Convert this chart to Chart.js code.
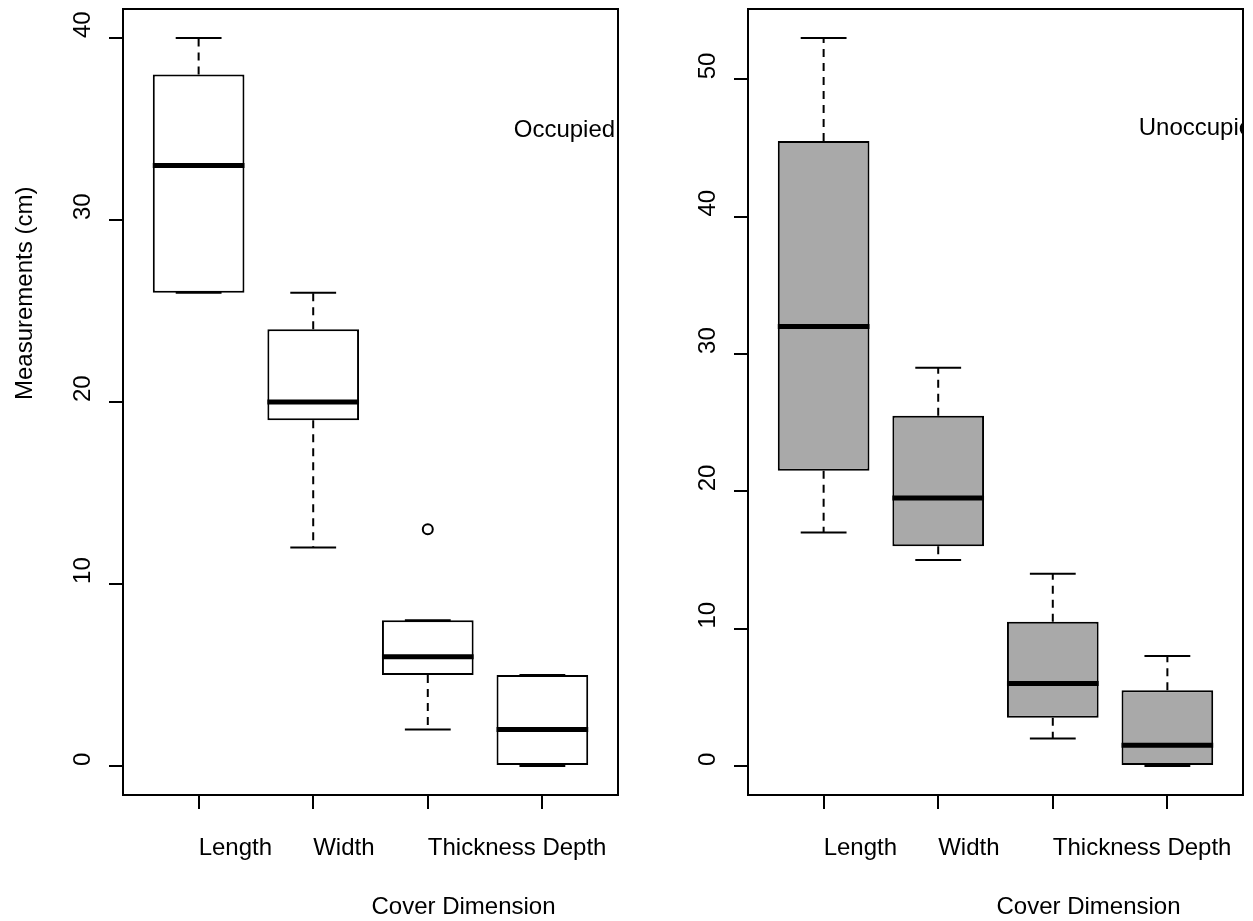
<!DOCTYPE html>
<html>
<head>
<meta charset="utf-8">
<script src="https://cdn.jsdelivr.net/npm/chart.js@4.4.0/dist/chart.umd.min.js"></script>
<style>
  body { margin: 0; background: #fff; }
  canvas { position: absolute; top: 0; }
</style>
</head>
<body>
<canvas id="occupied" width="626" height="921" style="left:0px"></canvas>
<canvas id="unoccupied" width="627" height="921" style="left:626px"></canvas>
<script>
var dimensions = ["Length", "Width", "Thickness", "Depth"];

//----------------------------Occupied nests
var occLow = [26, 12, 2, 0];
var occQ1 = [26, 19, 5, 0];
var occMedian = [33, 20, 6, 2];
var occQ3 = [38, 24, 8, 5];
var occHigh = [40, 26, 8, 5];
var occOutlierCat = [3];
var occOutlierVal = [13];
var occTicks = [0, 10, 20, 30, 40];

//----------------------------Unoccupied nests
var unLow = [17, 15, 2, 0];
var unQ1 = [21.5, 16, 3.5, 0];
var unMedian = [32, 19.5, 6, 1.5];
var unQ3 = [45.5, 25.5, 10.5, 5.5];
var unHigh = [53, 29, 14, 8];
var unOutlierCat = [];
var unOutlierVal = [];
var unTicks = [0, 10, 20, 30, 40, 50];

var FONT = '24px "Liberation Sans", Arial, Helvetica, sans-serif';

var panels = {
  occupied: {
    low: occLow, q1: occQ1, med: occMedian, q3: occQ3, high: occHigh,
    outCat: occOutlierCat, outVal: occOutlierVal, ticks: occTicks,
    fill: "#ffffff", note: "Occupied", noteX: 3.75, noteY: 35,
    yTitle: "Measurements (cm)", axisWidth: 123, padRight: 8
  },
  unoccupied: {
    low: unLow, q1: unQ1, med: unMedian, q3: unQ3, high: unHigh,
    outCat: unOutlierCat, outVal: unOutlierVal, ticks: unTicks,
    fill: "#a9a9a9", note: "Unoccupied", noteX: 3.75, noteY: 46.5,
    yTitle: null, axisWidth: 122, padRight: 10
  }
};

var boxExtras = {
  id: "boxExtras",
  beforeDatasetsDraw: function (chart) {
    var p = panels[chart.canvas.id];
    var ctx = chart.ctx, xs = chart.scales.x, ys = chart.scales.y;
    ctx.save();
    ctx.strokeStyle = "#000";
    ctx.lineWidth = 2;
    for (var i = 0; i < dimensions.length; i++) {
      var cx = xs.getPixelForValue(i + 1);
      // dashed whiskers
      ctx.setLineDash([8, 6]);
      ctx.beginPath();
      ctx.moveTo(cx, ys.getPixelForValue(p.q3[i]));
      ctx.lineTo(cx, ys.getPixelForValue(p.high[i]));
      ctx.moveTo(cx, ys.getPixelForValue(p.q1[i]));
      ctx.lineTo(cx, ys.getPixelForValue(p.low[i]));
      ctx.stroke();
      // staples
      ctx.setLineDash([]);
      var sl = xs.getPixelForValue(i + 1 - 0.2), sr = xs.getPixelForValue(i + 1 + 0.2);
      ctx.beginPath();
      ctx.moveTo(sl, ys.getPixelForValue(p.high[i]));
      ctx.lineTo(sr, ys.getPixelForValue(p.high[i]));
      ctx.moveTo(sl, ys.getPixelForValue(p.low[i]));
      ctx.lineTo(sr, ys.getPixelForValue(p.low[i]));
      ctx.stroke();
    }
    ctx.restore();
  },
  afterDatasetsDraw: function (chart) {
    var p = panels[chart.canvas.id];
    var ctx = chart.ctx, xs = chart.scales.x, ys = chart.scales.y;
    ctx.save();
    ctx.strokeStyle = "#000";
    ctx.lineWidth = 5;
    for (var i = 0; i < dimensions.length; i++) {
      var y = ys.getPixelForValue(p.med[i]);
      ctx.beginPath();
      ctx.moveTo(xs.getPixelForValue(i + 1 - 0.4), y);
      ctx.lineTo(xs.getPixelForValue(i + 1 + 0.4), y);
      ctx.stroke();
    }
    ctx.restore();
  },
  afterDraw: function (chart) {
    var p = panels[chart.canvas.id];
    var ctx = chart.ctx, xs = chart.scales.x, ys = chart.scales.y, a = chart.chartArea;
    ctx.save();
    // frame
    ctx.strokeStyle = "#000";
    ctx.lineWidth = 2;
    ctx.strokeRect(a.left, a.top, a.right - a.left, a.bottom - a.top);

    ctx.fillStyle = "#000";
    ctx.font = FONT;
    ctx.textAlign = "left";
    ctx.textBaseline = "alphabetic";

    // category labels, left-aligned at the ticks
    for (var i = 0; i < dimensions.length; i++) {
      ctx.fillText(dimensions[i], xs.getPixelForValue(i + 1), a.bottom + 60);
    }
    // value labels, rotated, starting at the ticks
    p.ticks.forEach(function (v) {
      ctx.save();
      ctx.translate(a.left - 33, ys.getPixelForValue(v));
      ctx.rotate(-Math.PI / 2);
      ctx.fillText(String(v), 0, 0);
      ctx.restore();
    });
    // axis titles start at the middle of the plot region
    ctx.fillText("Cover Dimension", (a.left + a.right) / 2 + 1, a.bottom + 119);
    if (p.yTitle) {
      ctx.save();
      ctx.translate(32, (a.top + a.bottom) / 2 - 2);
      ctx.rotate(-Math.PI / 2);
      ctx.fillText(p.yTitle, 0, 0);
      ctx.restore();
    }
    // group note, clipped by the plot region
    ctx.beginPath();
    ctx.rect(a.left, a.top, a.right - a.left, a.bottom - a.top);
    ctx.clip();
    ctx.fillText(p.note, xs.getPixelForValue(p.noteX), ys.getPixelForValue(p.noteY) + 8);
    ctx.restore();
  }
};

function drawPanel(id) {
  var p = panels[id];
  var all = p.low.concat(p.high, p.outVal);
  var lo = Math.min.apply(null, all), hi = Math.max.apply(null, all);
  var ext = (hi - lo) * 0.04;
  var tickGrid = { display: true, drawOnChartArea: false, drawTicks: true, tickLength: 14, color: "#000", lineWidth: 2, offset: false };

  new Chart(document.getElementById(id), {
    type: "bar",
    data: {
      datasets: [{
        type: "bar",
        data: dimensions.map(function (d, i) { return { x: i + 1, y: [p.q1[i], p.q3[i]] }; }),
        backgroundColor: p.fill,
        borderColor: "#000",
        borderWidth: 2,
        borderSkipped: false,
        categoryPercentage: 1,
        barPercentage: 0.8,
        order: 2
      }, {
        type: "scatter",
        data: p.outCat.map(function (c, k) { return { x: c, y: p.outVal[k] }; }),
        pointRadius: 5,
        pointBorderWidth: 2,
        pointBorderColor: "#000",
        pointBackgroundColor: "rgba(0,0,0,0)",
        order: 1
      }]
    },
    options: {
      responsive: false,
      animation: false,
      events: [],
      layout: { padding: { left: 0, top: 9, right: p.padRight, bottom: 0 } },
      plugins: { legend: { display: false }, tooltip: { enabled: false } },
      scales: {
        x: {
          type: "linear", offset: false, min: 0.34, max: 4.66,
          afterBuildTicks: function (s) { s.ticks = dimensions.map(function (d, i) { return { value: i + 1 }; }); },
          afterFit: function (s) { s.height = 126; },
          ticks: { display: false },
          grid: tickGrid,
          border: { display: false }
        },
        y: {
          type: "linear", min: lo - ext, max: hi + ext, beginAtZero: false,
          afterBuildTicks: function (s) { s.ticks = p.ticks.map(function (v) { return { value: v }; }); },
          afterFit: function (s) { s.width = p.axisWidth; },
          ticks: { display: false },
          grid: tickGrid,
          border: { display: false }
        }
      }
    },
    plugins: [boxExtras]
  });
}

drawPanel("occupied");
drawPanel("unoccupied");
</script>
</body>
</html>
